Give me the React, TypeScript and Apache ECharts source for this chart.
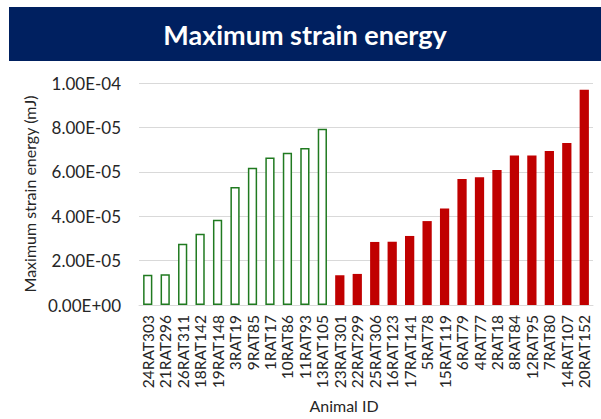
import React, { useEffect, useRef } from "react";
import * as echarts from "echarts";

const greenIds = ["24RAT303", "21RAT296", "26RAT311", "18RAT142", "19RAT148", "3RAT19", "9RAT85", "1RAT17", "10RAT86", "11RAT93", "13RAT105"];
const greenValues = [1.365e-5, 1.38e-5, 2.76e-5, 3.21e-5, 3.84e-5, 5.32e-5, 6.18e-5, 6.64e-5, 6.86e-5, 7.07e-5, 7.94e-5];
const redIds = ["23RAT301", "22RAT299", "25RAT306", "16RAT123", "17RAT141", "5RAT78", "15RAT119", "6RAT79", "4RAT77", "2RAT18", "8RAT84", "12RAT95", "7RAT80", "14RAT107", "20RAT152"];
const redValues = [1.34e-5, 1.40e-5, 2.84e-5, 2.85e-5, 3.11e-5, 3.78e-5, 4.35e-5, 5.68e-5, 5.75e-5, 6.08e-5, 6.73e-5, 6.73e-5, 6.94e-5, 7.30e-5, 9.70e-5];

const titleText = "Maximum strain energy";
const yAxisTitle = "Maximum strain energy (mJ)";
const xAxisTitle = "Animal ID";

const FONT = "Lato, 'Noto Sans', sans-serif";

function fmt(v: number): string {
  const s = Number(v).toExponential(2);
  const [m, e] = s.split("e");
  const sign = e[0] === "-" ? "-" : "+";
  const digits = e.replace(/[+-]/, "").padStart(2, "0");
  return `${m}E${sign}${digits}`;
}

export default function App() {
  const ref = useRef<HTMLDivElement>(null);
  useEffect(() => {
    document.body.style.margin = "0";
    if (!ref.current) return;
    const chart = echarts.init(ref.current, undefined, { renderer: "svg" });
    const categories = [...greenIds, ...redIds];
    const gData = categories.map((_, i) => (i < greenValues.length ? greenValues[i] : null));
    const rData = categories.map((_, i) => (i >= greenIds.length ? redValues[i - greenIds.length] : null));
    chart.setOption({
      animation: false,
      backgroundColor: "#ffffff",
      textStyle: { fontFamily: FONT },
      grid: { left: 139, right: 8, top: 83, bottom: 114 },
      graphic: [
        { type: "rect", shape: { x: 9, y: 7, width: 592, height: 54 }, style: { fill: "#002060" } },
        {
          type: "text",
          x: 305,
          y: 34,
          style: { text: titleText, fill: "#ffffff", font: `bold 27px ${FONT}`, textAlign: "center", textVerticalAlign: "middle" },
        },
        {
          type: "text",
          x: 344,
          y: 405,
          style: { text: xAxisTitle, fill: "#262626", font: `16px ${FONT}`, textAlign: "center", textVerticalAlign: "middle" },
        },
      ],
      xAxis: {
        type: "category",
        data: categories,
        axisTick: { show: false },
        axisLine: { lineStyle: { color: "#d9d9d9", width: 1 } },
        axisLabel: { interval: 0, rotate: 90, margin: 10, fontSize: 15.5, color: "#262626", fontFamily: FONT },
      },
      yAxis: {
        type: "value",
        min: 0,
        max: 1e-4,
        interval: 2e-5,
        name: yAxisTitle,
        nameLocation: "middle",
        nameGap: 98,
        nameTextStyle: { fontSize: 16, color: "#262626", fontFamily: FONT },
        axisLine: { show: false },
        axisTick: { show: false },
        splitLine: { lineStyle: { color: "#d9d9d9", width: 1 } },
        axisLabel: { formatter: fmt, fontSize: 17, color: "#262626", margin: 18, fontFamily: FONT },
      },
      series: [
        {
          type: "bar",
          data: gData,
          barWidth: "53%",
          barGap: "-100%",
          itemStyle: { color: "#ffffff", borderColor: "#207A20", borderWidth: 1.5 },
        },
        {
          type: "bar",
          data: rData,
          barWidth: "53%",
          barGap: "-100%",
          itemStyle: { color: "#C00000" },
        },
      ],
    });
    return () => chart.dispose();
  }, []);
  return <div ref={ref} style={{ width: 601, height: 419 }} />;
}
